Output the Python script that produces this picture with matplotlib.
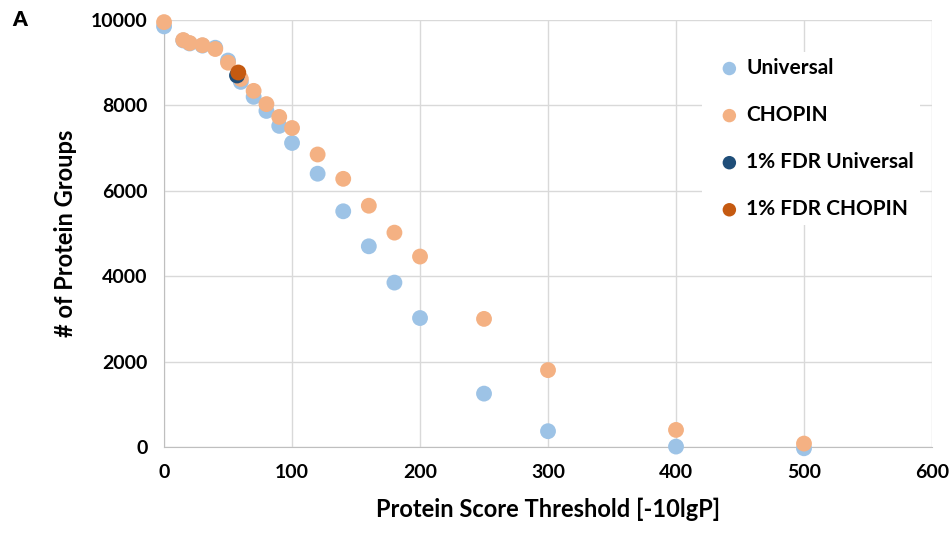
import matplotlib.pyplot as plt

plt.rcParams['font.family'] = ['Lato', 'DejaVu Sans']
plt.rcParams['font.weight'] = 'bold'

# score thresholds
thresholds = [0, 15, 20, 30, 40, 50, 60, 70, 80, 90, 100, 120, 140, 160, 180, 200, 250, 300, 400, 500]
universal = [9850, 9520, 9450, 9400, 9350, 9050, 8550, 8200, 7870, 7520, 7120, 6400, 5520, 4700,
             3850, 3020, 1250, 370, 10, -30]
chopin = [9950, 9530, 9460, 9410, 9320, 9000, 8620, 8340, 8030, 7730, 7470, 6850, 6280, 5650,
          5020, 4460, 3000, 1800, 400, 80]
fdr_universal_x, fdr_universal_y = [57], [8700]
fdr_chopin_x, fdr_chopin_y = [58], [8770]

fig = plt.figure(figsize=(9.51, 5.37), dpi=100)
ax = fig.add_axes([0.1725, 0.1676, 0.8075, 0.7952])

ax.scatter(thresholds, universal, s=130, c='#9DC3E6', edgecolors='none', label='Universal', clip_on=False, zorder=3)
ax.scatter(thresholds, chopin, s=130, c='#F4B183', edgecolors='none', label='CHOPIN', clip_on=False, zorder=4)
ax.scatter(fdr_universal_x, fdr_universal_y, s=130, c='#1F4E79', edgecolors='none', label='1% FDR Universal', zorder=5)
ax.scatter(fdr_chopin_x, fdr_chopin_y, s=130, c='#C55A11', edgecolors='none', label='1% FDR CHOPIN', zorder=6)

ax.set_xlim(0, 600)
ax.set_ylim(0, 10000)
ax.set_xticks(range(0, 601, 100))
ax.set_yticks(range(0, 10001, 2000))
ax.grid(True, color='#D9D9D9', linewidth=1)
ax.set_axisbelow(True)
for side in ['top', 'right']:
    ax.spines[side].set_visible(False)
for side in ['left', 'bottom']:
    ax.spines[side].set_color('#BFBFBF')
ax.tick_params(length=0, labelsize=14, pad=12)
ax.tick_params(axis='y', pad=12)

ax.set_xlabel('Protein Score Threshold [-10lgP]', fontsize=17, fontweight='bold', labelpad=12)
ax.set_ylabel('# of Protein Groups', fontsize=17, fontweight='bold', labelpad=10)

leg = ax.legend(loc='upper right', bbox_to_anchor=(0.998, 0.95), frameon=True, fontsize=15,
                handletextpad=-0.2, labelspacing=1.3, borderpad=0.3, markerscale=0.85)
leg.get_frame().set_edgecolor('none')
leg.get_frame().set_facecolor('white')
leg.get_frame().set_alpha(1)

fig.text(0.013, 0.963, 'A', fontsize=15, fontweight='heavy', va='center')

fig.savefig('out.png', dpi=100)
